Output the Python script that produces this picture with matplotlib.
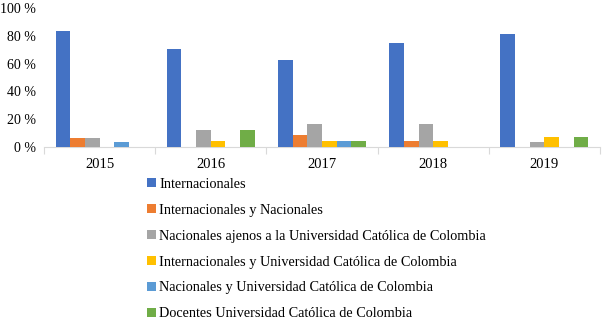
import matplotlib
matplotlib.use("Agg")
import matplotlib.pyplot as plt
import numpy as np

years = ["2015", "2016", "2017", "2018", "2019"]
series_names = [
    "Internacionales",
    "Internacionales y Nacionales",
    "Nacionales ajenos a la Universidad Católica de Colombia",
    "Internacionales y Universidad Católica de Colombia",
    "Nacionales y Universidad Católica de Colombia",
    "Docentes Universidad Católica de Colombia",
]
internacionales = [83.3, 70.8, 62.5, 75.0, 81.5]
internacionales_nacionales = [6.7, 0.0, 8.3, 4.2, 0.0]
nacionales_ajenos = [6.7, 12.5, 16.7, 16.7, 3.7]
internacionales_ucc = [0.0, 4.2, 4.2, 4.2, 7.4]
nacionales_ucc = [3.3, 0.0, 4.2, 0.0, 0.0]
docentes_ucc = [0.0, 12.5, 4.2, 0.0, 7.4]
series_values = [internacionales, internacionales_nacionales, nacionales_ajenos,
                 internacionales_ucc, nacionales_ucc, docentes_ucc]
colors = ["#4472C4", "#ED7D31", "#A5A5A5", "#FFC000", "#5B9BD5", "#70AD47"]
yticks = [0, 20, 40, 60, 80, 100]

plt.rcParams['font.family'] = ['Liberation Serif', 'DejaVu Serif']

fig = plt.figure(figsize=(6.02, 3.22), dpi=100)
ax = fig.add_axes([44/602, 175/322, 556/602, 139/322])

x = np.arange(len(years))
n = len(series_values)
w = 0.132
handles = []
for i, (vals, c, name) in enumerate(zip(series_values, colors, series_names)):
    off = (i - (n - 1) / 2) * w
    b = ax.bar(x + off, vals, width=w, color=c, label=name, zorder=3)
    handles.append(b)

ax.set_xlim(-0.5, len(years) - 0.5)
ax.set_ylim(0, 100)
ax.set_yticks(yticks)
ax.set_yticklabels([f"{t} %" for t in yticks], fontsize=10)
ax.set_xticks(x)
ax.set_xticklabels(years, fontsize=10.5)
ax.tick_params(axis='y', length=0, pad=6)
ax.tick_params(axis='x', length=0, pad=8)
ax.set_xticks(np.arange(-0.5, len(years), 1.0), minor=True)
ax.tick_params(axis='x', which='minor', length=5, color='#D9D9D9', width=0.8)
for s in ['top', 'right', 'left']:
    ax.spines[s].set_visible(False)
ax.spines['bottom'].set_color('#D9D9D9')
ax.spines['bottom'].set_linewidth(0.8)

fig.legend(handles=handles, labels=series_names, loc='upper left',
           bbox_to_anchor=(147/602, 1 - 178/322), frameon=False,
           fontsize=10.3, handlelength=0.6, handleheight=0.6,
           handletextpad=0.25, labelspacing=0.9, borderaxespad=0,
           borderpad=0)

fig.savefig("out.png", dpi=100)
